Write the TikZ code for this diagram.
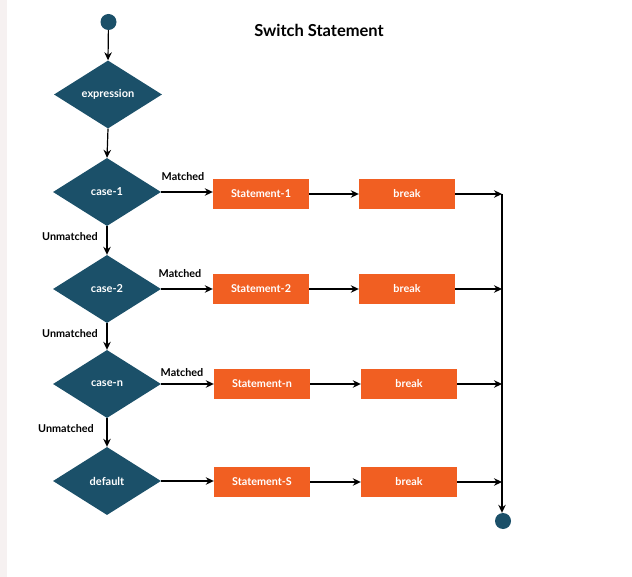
\documentclass[tikz,border=0pt]{standalone}
\usepackage{fontspec}
\setmainfont{Lato}
\usetikzlibrary{shapes.geometric,arrows.meta}
\definecolor{dia}{HTML}{1B5069}
\definecolor{org}{HTML}{F15F22}
\definecolor{strip}{HTML}{F6F1F1}
\begin{document}
\begin{tikzpicture}[x=1pt,y=-1pt,
 dec/.style={diamond,fill=dia,text=white,font=\bfseries\fontsize{11}{12}\selectfont,minimum width=108pt,minimum height=68pt,inner sep=0pt,shape aspect=1.6},
 stbox/.style={rectangle,fill=org,text=white,font=\bfseries\fontsize{10.8}{12}\selectfont,minimum width=96pt,minimum height=30pt,inner sep=0pt},
 dot/.style={circle,fill=dia,minimum size=16pt,inner sep=0pt},
 lbl/.style={font=\bfseries\fontsize{10.8}{12}\selectfont,text=black,inner sep=0pt},
 arr/.style={draw=black,line width=1.2pt,-{Stealth[length=8pt,width=7.5pt]}},
 ln/.style={draw=black,line width=1.2pt}]
\useasboundingbox (0,0) rectangle (632,577);
\fill[strip] (0,0) rectangle (7,577);
\node[font=\bfseries\fontsize{16.5}{18}\selectfont] (title) at (319,30) {Switch Statement};
\node[dot] (start) at (108.5,22) {};
\node[dec] (expr) at (108,94.5) {expression};
\node[dec] (c1) at (107,192) {case-1};
\node[dec] (c2) at (107,289) {case-2};
\node[dec] (cn) at (107,384) {case-n};
\node[dec] (def) at (107,481) {default};
\node[stbox] (s1) at (261,194) {Statement-1};
\node[stbox] (s2) at (261,289) {Statement-2};
\node[stbox] (sn) at (262,384) {Statement-n};
\node[stbox] (ss) at (262,482) {Statement-S};
\node[stbox] (b1) at (407,194) {break};
\node[stbox] (b2) at (407,289) {break};
\node[stbox] (bn) at (409,384) {break};
\node[stbox] (bs) at (409,482) {break};
\node[dot] (end) at (503,521) {};
\coordinate (j1) at (502,194);
\coordinate (j2) at (502,289);
\coordinate (jn) at (502,384);
\coordinate (js) at (502,482);
\draw[arr] (start) -- (expr.north);
\draw[arr] (expr.south) -- (c1.north);
\draw[arr] (c1.south) -- (c2.north);
\draw[arr] (c2.south) -- (cn.north);
\draw[arr] (cn.south) -- (def.north);
\draw[arr] (c1.east) -- (c1.east -| s1.west);
\draw[arr] (c2.east) -- (c2.east -| s2.west);
\draw[arr] (cn.east) -- (cn.east -| sn.west);
\draw[arr] (def.east) -- (def.east -| ss.west);
\draw[arr] (s1) -- (b1);
\draw[arr] (s2) -- (b2);
\draw[arr] (sn) -- (bn);
\draw[arr] (ss) -- (bs);
\draw[arr] (b1) -- (j1);
\draw[arr] (b2) -- (j2);
\draw[arr] (bn) -- (jn);
\draw[arr] (bs) -- (js);
\draw[arr] (j1) -- (j1 |- end.north);
\node[lbl] (m1) at (183,177) {Matched};
\node[lbl] (m2) at (180,274) {Matched};
\node[lbl] (m3) at (182,373) {Matched};
\node[lbl] (u1) at (70,237) {Unmatched};
\node[lbl] (u2) at (70,334) {Unmatched};
\node[lbl] (u3) at (66,429) {Unmatched};
\end{tikzpicture}
\end{document}
